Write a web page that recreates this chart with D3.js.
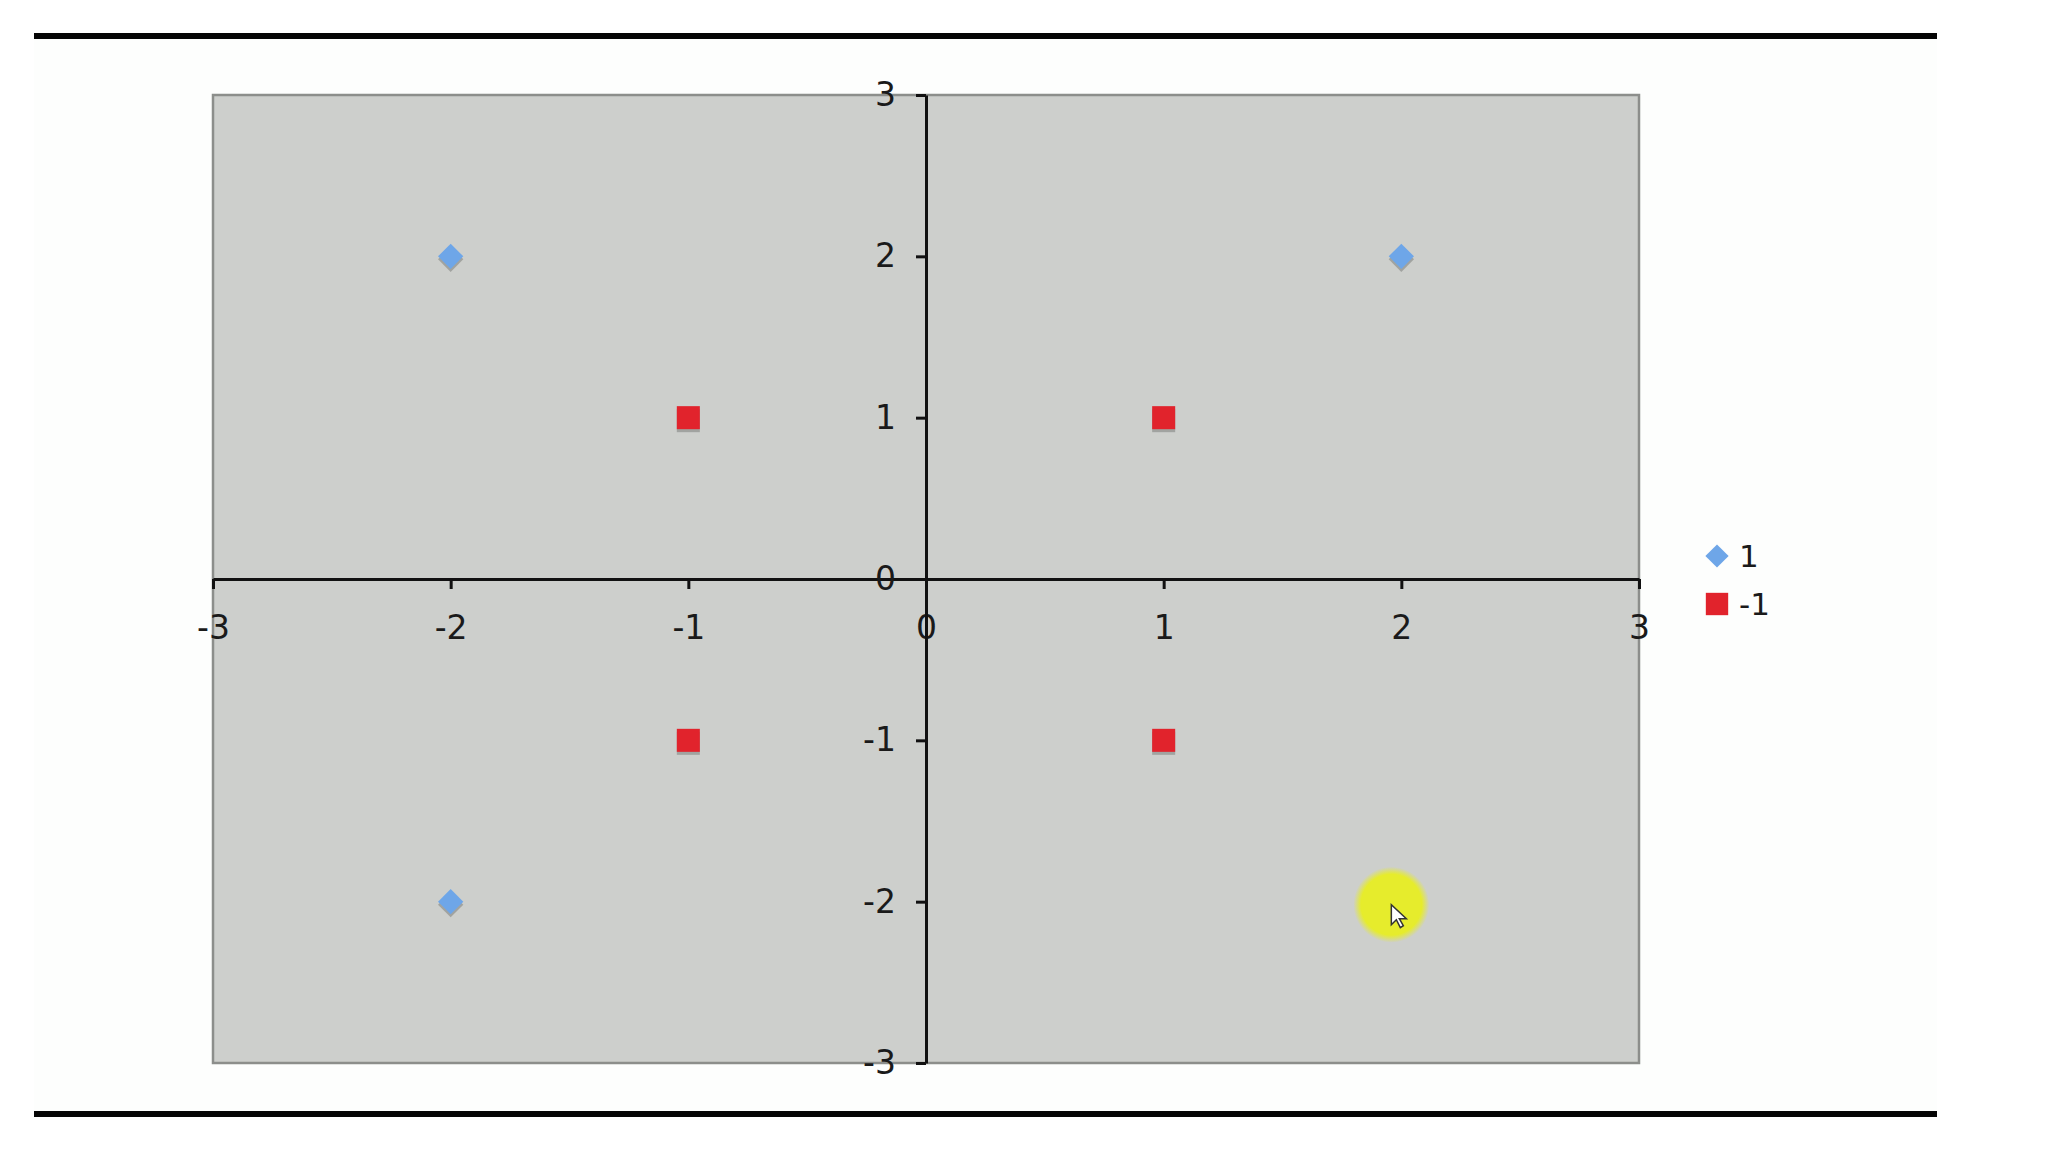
<!DOCTYPE html>
<html>
<head>
<meta charset="utf-8">
<script src="https://cdn.jsdelivr.net/npm/d3@7"></script>
<style>
  body { margin: 0; background: #ffffff; }
  svg { display: block; }
  .tick text { font-family: "DejaVu Sans", Verdana, sans-serif; fill: #1a1a1a; }
</style>
</head>
<body>
<div class="scatter"></div>
<script>
// data
var seriesNames = ['1', '-1'];
var posX = [-2, 2, -2, 2];
var posY = [2, 2, -2, -2];
var negX = [-1, 1, -1, 1];
var negY = [1, 1, -1, -1];
var tickValues = [-3, -2, -1, 0, 1, 2, 3];

var W = 2048, H = 1152;
var margin = { top: 95, right: 409, bottom: 89, left: 213 };
var width = W - margin.left - margin.right;   // plot area
var height = H - margin.top - margin.bottom;

var svg = d3.select('.scatter')
  .append('svg')
    .attr('width', W)
    .attr('height', H);

// slide frame lines
svg.append('rect').attr('x', 34).attr('y', 39).attr('width', 1903).attr('height', 1072).attr('fill', '#fdfefd');
svg.append('rect').attr('x', 34).attr('y', 33).attr('width', 1903).attr('height', 6).attr('fill', '#050505');
svg.append('rect').attr('x', 34).attr('y', 1111).attr('width', 1903).attr('height', 6).attr('fill', '#050505');

var g = svg.append('g')
  .attr('transform', 'translate(' + margin.left + ', ' + margin.top + ')');

var xScale = d3.scaleLinear().domain([-3, 3]).range([0, width]);
var yScale = d3.scaleLinear().domain([-3, 3]).range([height, 0]);

// plot area
g.append('rect')
  .attr('width', width)
  .attr('height', height)
  .attr('fill', '#cdcfcc')
  .attr('stroke', '#8c8e8b')
  .attr('stroke-width', 2.5);

var fontSize = 33;

// x axis through y = 0
var xAxis = d3.axisBottom(xScale)
  .tickValues(tickValues)
  .tickFormat(d => String(d))   // plain hyphen, like the original
  .tickSize(10)
  .tickPadding(27)
  .tickSizeOuter(0);
var gx = g.append('g')
  .attr('transform', `translate(0, ${yScale(0)})`)
  .call(xAxis);

// y axis through x = 0
var yAxis = d3.axisLeft(yScale)
  .tickValues(tickValues)
  .tickFormat(d => String(d))
  .tickSize(10)
  .tickPadding(20)
  .tickSizeOuter(0);
var gy = g.append('g')
  .attr('transform', `translate(${xScale(0)}, 0)`)
  .call(yAxis);

[gx, gy].forEach(function (a) {
  a.select('.domain').attr('stroke', '#111').attr('stroke-width', 3);
  a.selectAll('.tick line').attr('stroke', '#111').attr('stroke-width', 3);
  a.selectAll('.tick text').attr('font-size', fontSize).attr('font-family', null);
});
gx.selectAll('.tick text').attr('dy', '0.71em');

// markers
var diamond = d3.symbol().type(d3.symbolSquare).size(320);
var square = d3.symbol().type(d3.symbolSquare).size(530);

var posData = posX.map((x, i) => ({ x: x, y: posY[i] }));
var negData = negX.map((x, i) => ({ x: x, y: negY[i] }));

function drawSeries(data, path, rot, color) {
  // soft shadow under each marker
  g.selectAll(null)
    .data(data)
    .enter()
    .append('path')
    .attr('d', path)
    .attr('transform', d => `translate(${xScale(d.x)}, ${yScale(d.y) + 3}) rotate(${rot})`)
    .attr('fill', '#7d7f7c')
    .attr('opacity', 0.55);
  g.selectAll(null)
    .data(data)
    .enter()
    .append('path')
    .attr('d', path)
    .attr('transform', d => `translate(${xScale(d.x)}, ${yScale(d.y)}) rotate(${rot})`)
    .attr('fill', color);
}
drawSeries(posData, diamond, 45, '#6ea6e8');
drawSeries(negData, square, 0, '#e1232c');

// presenter's cursor highlight (sits over the point at 2,-2)
var cx = xScale(2) - 10, cy = yScale(-2) + 3;
var glow = svg.append('defs').append('radialGradient').attr('id', 'glow');
glow.append('stop').attr('offset', '0.8').attr('stop-color', '#e6ec2c').attr('stop-opacity', 1);
glow.append('stop').attr('offset', '1').attr('stop-color', '#e6ec2c').attr('stop-opacity', 0);
g.append('circle')
  .attr('cx', cx).attr('cy', cy).attr('r', 38)
  .attr('fill', 'url(#glow)');
g.append('path')
  .attr('transform', `translate(${cx}, ${cy})`)
  .attr('d', 'M0,0 L0,20 L5,15 L9,23 L12,21 L8,14 L15,14 Z')
  .attr('fill', '#ffffff')
  .attr('stroke', '#333')
  .attr('stroke-width', 1.5);

// legend
var legend = svg.append('g').attr('transform', 'translate(1717, 556)');
var items = legend.selectAll('g')
  .data(seriesNames)
  .enter()
  .append('g')
  .attr('transform', (d, i) => `translate(0, ${i * 48})`);
items.append('path')
  .attr('d', (d, i) => i === 0 ? d3.symbol().type(d3.symbolSquare).size(270)() : d3.symbol().type(d3.symbolSquare).size(500)())
  .attr('transform', (d, i) => i === 0 ? 'rotate(45)' : null)
  .attr('fill', (d, i) => i === 0 ? '#6ea6e8' : '#e1232c');
items.append('text')
  .attr('x', 22)
  .attr('dy', '0.36em')
  .attr('font-family', '"DejaVu Sans", Verdana, sans-serif')
  .attr('font-size', 31)
  .attr('fill', '#1a1a1a')
  .text(d => d);
</script>
</body>
</html>
